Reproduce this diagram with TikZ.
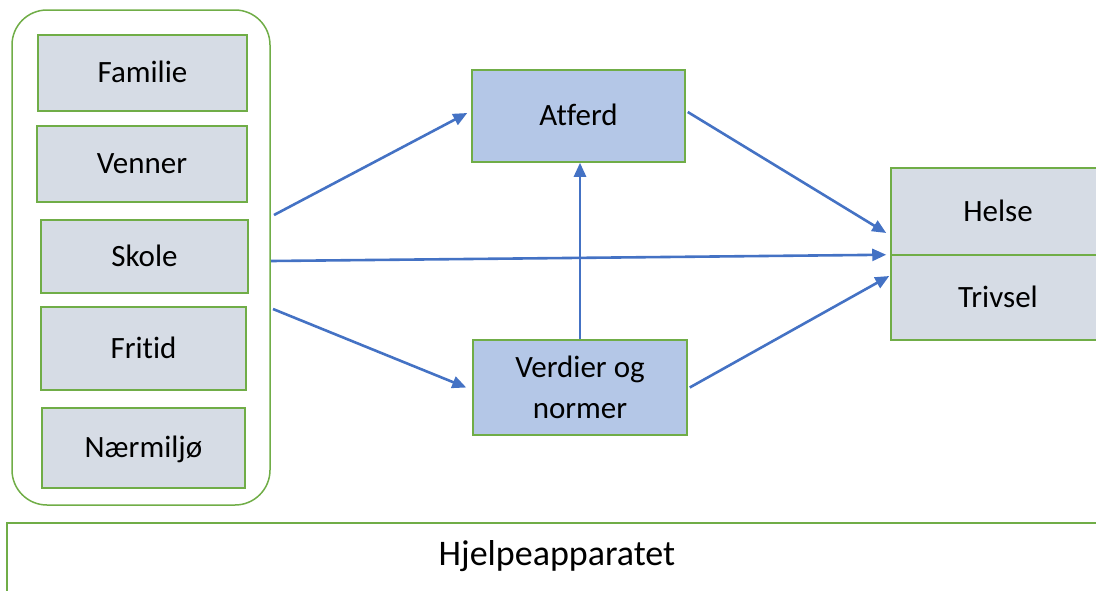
\documentclass[tikz,border=0pt]{standalone}
\usepackage{fontspec}
\setmainfont{Carlito}[Ligatures=NoCommon]
\usetikzlibrary{arrows.meta,calc}
\definecolor{grn}{HTML}{70AD47}
\definecolor{arrblue}{HTML}{4472C4}
\definecolor{sidefill}{HTML}{D6DCE5}
\definecolor{midfill}{HTML}{B4C7E7}
\begin{document}
\begin{tikzpicture}[x=1pt,y=-1pt,
  box/.style={draw=grn, line width=1.5pt, fill=sidefill, inner sep=0pt,
    font=\fontsize{31}{41}\selectfont, text height=23.2pt, text depth=3.3pt},
  midbox/.style={box, fill=midfill},
  arr/.style={draw=arrblue, line width=2.6pt, -{Triangle[length=14pt,width=12pt]}}]
\useasboundingbox (0,0) rectangle (1096,590);
\clip (0,0) rectangle (1096,590);
% container
\node[draw=grn, line width=1.5pt, rounded corners=35pt, minimum width=258pt, minimum height=495pt, inner sep=0pt] (cont) at (141,257.5) {};
\node[box, minimum width=209pt, minimum height=76pt] (familie) at (142.5,73) {Familie};
\node[box, minimum width=210pt, minimum height=76pt] (venner) at (142,164) {Venner};
\node[box, minimum width=207pt, minimum height=73pt] (skole) at (144.5,256.5) {Skole};
\node[box, minimum width=205pt, minimum height=83pt] (fritid) at (143.5,348.5) {Fritid};
\node[box, minimum width=203pt, minimum height=80pt] (naer) at (143.5,448) {Nærmiljø};
% middle
\node[midbox, minimum width=213pt, minimum height=92pt] (atferd) at (578.5,116) {Atferd};
\node[midbox, minimum width=214pt, minimum height=95pt, align=center, text height=, text depth=] (verdier) at (580,387.5) {Verdier og\\normer};
% right
\node[box, minimum width=214pt, minimum height=87pt] (helse) at (998,211.5) {Helse};
\node[box, minimum width=214pt, minimum height=85pt] (trivsel) at (998,297.5) {Trivsel};
% bottom bar
\node[draw=grn, line width=1.5pt, minimum width=1103pt, minimum height=97pt, inner sep=0pt] (bar) at (558.5,571.5) {};
\node[font=\fontsize{36}{44}\selectfont, text height=27pt, text depth=3.8pt, inner sep=0pt] (hjelp) at (557,554) {Hjelpeapparatet};
% arrows
\coordinate (s1) at (274,215);
\coordinate (s2) at (271,261);
\coordinate (s3) at (273,309);
\draw[arr] (s1) -- ($(atferd.west)+(-4,-3)$);
\draw[arr] (s2) -- ($(helse.south west)+(-4,-1)$);
\draw[arr] (s3) -- ($(verdier.west)+(-6,0)$);
\draw[arr] (verdier.north) -- (verdier.north |- atferd.south);
\draw[arr] ($(atferd.east)+(2,-4)$) -- ($(helse.west)+(-4,21.5)$);
\draw[arr] ($(verdier.east)+(2,0)$) -- ($(trivsel.west)+(-1,-21.5)$);
\end{tikzpicture}
\end{document}
